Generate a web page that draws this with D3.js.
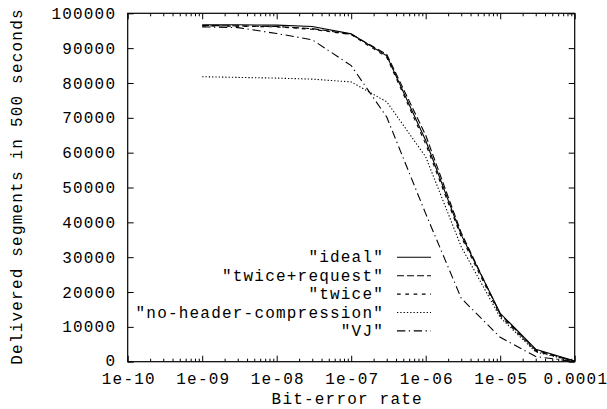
<!DOCTYPE html>
<html>
<head>
<meta charset="utf-8">
<script src="https://cdn.jsdelivr.net/npm/d3@7"></script>
<style>
  body { margin: 0; background: #fff; }
  text { font-family: "Liberation Mono", "DejaVu Sans Mono", monospace; font-size: 16px; letter-spacing: 1.2px; fill: #000; }
</style>
</head>
<body>
<svg id="chart" width="607" height="409"></svg>
<script>
/*

Data

*/

var ber = [1e-9, 3e-9, 1e-8, 3e-8, 1e-7, 3e-7, 1e-6, 3e-6, 1e-5, 3e-5, 1e-4];

var ideal = [96700, 96700, 96600, 96200, 94100, 87800, 63500, 36400, 13900, 3600, 200];
var twiceRequest = [96500, 96400, 96200, 95600, 94000, 88200, 65000, 37000, 13600, 3300, 150];
var twice = [96400, 96300, 96100, 95400, 93900, 87400, 62500, 35800, 13200, 3000, 100];
var noHeader = [81800, 81600, 81400, 81100, 80300, 74600, 58800, 33000, 12700, 2800, 100];
var vj = [96100, 95900, 94200, 92400, 85000, 70200, 42500, 18200, 7000, 1500, 0];

var seriesNames = ['"ideal"', '"twice+request"', '"twice"', '"no-header-compression"', '"VJ"'];
var seriesValues = [ideal, twiceRequest, twice, noHeader, vj];
var dashes = ["none", "7,3", "3.7,4.6", "1.3,2", "8.3,3.5,1.3,3.7"];

var xTicks = [1e-10, 1e-9, 1e-8, 1e-7, 1e-6, 1e-5, 1e-4];
var xTickLabels = ["1e-10", "1e-09", "1e-08", "1e-07", "1e-06", "1e-05", "0.0001"];
var yTicks = d3.range(0, 100001, 10000);

var xTitle = "Bit-error rate";
var yTitle = "Delivered segments in 500 seconds";

////////// layout
var margin = { top: 13.3, right: 32.3, bottom: 47.3, left: 127.7 };
var width = 607 - margin.left - margin.right;
var height = 409 - margin.top - margin.bottom;

var x = d3.scaleLog().domain([1e-10, 1e-4]).range([0, width]);
var y = d3.scaleLinear().domain([0, 100000]).range([height, 0]);

// minor ticks 2..9 of every decade
var minor = [];
for (var e = -10; e < -4; e++) {
  for (var m = 2; m < 10; m++) minor.push(m * Math.pow(10, e));
}

var svg = d3.select("#chart");
var g = svg.append("g").attr("transform", "translate(" + margin.left + "," + margin.top + ")");

////////// axes (ticks point inwards, mirrored like gnuplot)
g.append("g")
  .attr("class", "xaxis")
  .attr("transform", "translate(0," + height + ")")
  .call(d3.axisBottom(x).tickValues(xTicks).tickSize(-6).tickSizeOuter(0).tickPadding(11)
    .tickFormat(function(d, i) { return xTickLabels[i]; }));
g.append("g")
  .attr("transform", "translate(0," + height + ")")
  .call(d3.axisBottom(x).tickValues(minor).tickSize(-3).tickSizeOuter(0).tickFormat(""));
g.append("g")
  .call(d3.axisTop(x).tickValues(xTicks).tickSize(-6).tickSizeOuter(0).tickFormat(""));
g.append("g")
  .call(d3.axisTop(x).tickValues(minor).tickSize(-3).tickSizeOuter(0).tickFormat(""));
g.append("g")
  .attr("class", "yaxis")
  .call(d3.axisLeft(y).tickValues(yTicks).tickSize(-6).tickSizeOuter(0).tickPadding(11.5)
    .tickFormat(d3.format("d")));
g.append("g")
  .attr("transform", "translate(" + width + ",0)")
  .call(d3.axisRight(y).tickValues(yTicks).tickSize(-6).tickSizeOuter(0).tickFormat(""));

g.selectAll(".domain").remove();
g.selectAll(".tick line").attr("stroke", "#000");
g.selectAll(".tick text").attr("font-size", null).attr("font-family", null);
// letter-spacing leaves a trailing gap, nudge centred labels back
g.selectAll(".xaxis .tick text").attr("dx", "0.6px");
// keep the "0" clear of the "1e-10" below it
g.selectAll(".yaxis .tick text").filter(function(d) { return d === 0; }).attr("y", -1.3);

g.append("rect")
  .attr("width", width)
  .attr("height", height)
  .attr("fill", "none")
  .attr("stroke", "#000")
  .attr("stroke-width", 1.2);

////////// titles
svg.append("text")
  .attr("x", margin.left + width / 2 - 4)
  .attr("y", 404)
  .attr("text-anchor", "middle")
  .text(xTitle);

svg.append("text")
  .attr("transform", "translate(22," + (margin.top + height / 2 - 1) + ") rotate(-90)")
  .attr("text-anchor", "middle")
  .text(yTitle);

////////// lines
var valueline = d3
  .line()
  .x(function(d, i) { return x(ber[i]); })
  .y(function(d) { return y(d); });

g.selectAll(".series")
  .data(seriesValues)
  .enter()
  .append("path")
  .attr("class", "series")
  .attr("d", valueline)
  .style("fill", "none")
  .style("stroke", "#000")
  .style("stroke-width", "1.1px")
  .style("stroke-dasharray", function(d, i) { return dashes[i]; });

////////// legend
var legend = svg.append("g").attr("transform", "translate(0,257.3)");
seriesNames.forEach(function(name, i) {
  legend.append("text")
    .attr("x", 384)
    .attr("y", i * 18.4)
    .attr("dy", "0.32em")
    .attr("text-anchor", "end")
    .text(name);
  legend.append("line")
    .attr("x1", 397)
    .attr("x2", 431)
    .attr("y1", i * 18.4)
    .attr("y2", i * 18.4)
    .style("stroke", "#000")
    .style("stroke-width", "1.1px")
    .style("stroke-dasharray", dashes[i]);
});
</script>
</body>
</html>
